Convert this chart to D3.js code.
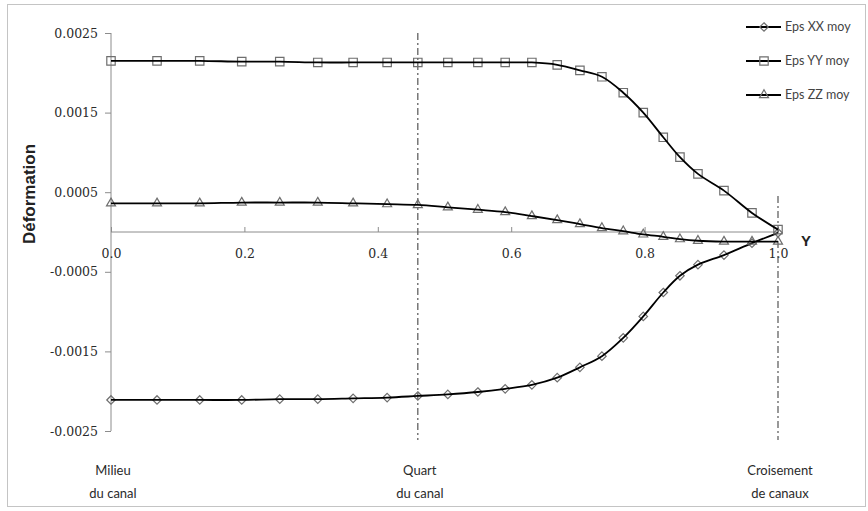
<!DOCTYPE html>
<html>
<head>
<meta charset="utf-8">
<script src="https://cdn.jsdelivr.net/npm/d3@7"></script>
<style>
  body { margin: 0; background: #fff; }
</style>
</head>
<body>
<div id="chart"></div>
<script>
// Y positions along the channel (normalised), one per computed point
const yPos = [0.000, 0.069, 0.133, 0.196, 0.253, 0.310, 0.363, 0.414, 0.460, 0.505, 0.550, 0.591,
              0.631, 0.669, 0.703, 0.736, 0.768, 0.798, 0.828, 0.853, 0.880, 0.919, 0.961, 1.000];

const epsXX = [-0.00211, -0.00211, -0.00211, -0.00211, -0.00210, -0.00210, -0.00209, -0.00208,
               -0.00206, -0.00204, -0.00201, -0.00197, -0.00192, -0.00183, -0.00170, -0.00156,
               -0.00133, -0.00106, -0.00076, -0.00055, -0.00041, -0.00029, -0.00014, -0.00001];

const epsYY = [0.00215, 0.00215, 0.00215, 0.00214, 0.00214, 0.00213, 0.00213, 0.00213,
               0.00213, 0.00213, 0.00213, 0.00213, 0.00213, 0.00210, 0.00203, 0.00195,
               0.00175, 0.00150, 0.00119, 0.00094, 0.00073, 0.00052, 0.00024, 0.00003];

const epsZZ = [0.00036, 0.00036, 0.00036, 0.00037, 0.00037, 0.00037, 0.00036, 0.00035,
               0.00034, 0.00031, 0.00028, 0.00025, 0.00020, 0.00015, 0.00010, 0.00005,
               0.00001, -0.00003, -0.00006, -0.00009, -0.00011, -0.00012, -0.00012, -0.00012];

const seriesNames = ["Eps XX moy", "Eps YY moy", "Eps ZZ moy"];
const seriesMarkers = ["diamond", "square", "triangle"];

const yTicks = [0.0025, 0.0015, 0.0005, -0.0005, -0.0015, -0.0025];
const xTicks = [0.0, 0.2, 0.4, 0.6, 0.8, 1.0];

// reference positions marked with dash-dot lines + captions
const refLines = [0.46, 1.0];
const refCaptions = [["Milieu", "du canal"], ["Quart", "du canal"], ["Croisement", "de canaux"]];
const refCaptionPos = [0.0, 0.46, 1.0];

const W = 868, H = 511;
const colors = {
    line: "#000",
    marker: "#6e6e6e",
    axis: "#8c8c8c",
    text: "#2a2a2a",
    ref: "#555",
    border: "#c4c4c4"
};

const svg = d3.select("#chart")
    .append("svg")
    .attr("viewBox", [0, 0, W, H])
    .attr("width", W)
    .attr("height", H);

svg.append("rect")
    .attr("x", 7.5).attr("y", 4.5)
    .attr("width", 858).attr("height", 502)
    .attr("fill", "#fff")
    .attr("stroke", colors.border);

const x = d3.scaleLinear().domain([0, 1]).range([111, 778]);
const y = d3.scaleLinear().domain([-0.0025, 0.0025]).range([431, 33]);

// plain hyphen for negatives, like the original spreadsheet
const fmtY = d => d3.format(".4f")(d).replace("\u2212", "-");

// y axis
const yAxis = svg.append("g")
    .attr("transform", `translate(${x(0)},0)`)
    .call(d3.axisLeft(y).tickValues(yTicks).tickFormat(fmtY).tickSize(6).tickPadding(7));
yAxis.select(".domain").attr("stroke", colors.axis).attr("d", `M0,${y(0.0025)}V${y(-0.0025)}`);
yAxis.selectAll(".tick line").attr("stroke", colors.axis);
yAxis.selectAll(".tick text")
    .attr("fill", colors.text)
    .style("font-family", "DejaVu Serif")
    .style("font-size", "12.5px");

// x axis, crossing at zero
const xAxis = svg.append("g")
    .attr("transform", `translate(0,${y(0)})`)
    .call(d3.axisBottom(x).tickValues(xTicks).tickFormat(d3.format(".1f")).tickSize(0).tickPadding(17));
xAxis.select(".domain").attr("stroke", colors.axis).attr("d", `M${x(0)},0H${x(1)}`);
xAxis.selectAll(".tick line").attr("stroke", colors.axis).attr("y1", -5).attr("y2", 0);
xAxis.selectAll(".tick text")
    .attr("fill", colors.text)
    .style("font-family", "DejaVu Serif")
    .style("font-size", "12.5px");

// reference dash-dot lines
svg.selectAll(".ref")
    .data(refLines)
    .join("line")
    .attr("class", "ref")
    .attr("x1", d => x(d)).attr("x2", d => x(d))
    .attr("y1", d => d < 1 ? y(0.0025) : 196)
    .attr("y2", 440)
    .attr("stroke", colors.ref)
    .attr("stroke-width", 1.2)
    .attr("stroke-dasharray", "7,3,2,3");

// captions under the chart
refCaptions.forEach((lines, i) => {
    const t = svg.append("text")
        .attr("y", 475)
        .attr("text-anchor", "middle")
        .attr("fill", colors.text)
        .style("font-family", "Lato")
        .style("font-size", "13px");
    lines.forEach((s, k) => t.append("tspan")
        .attr("x", x(refCaptionPos[i]) + 2)
        .attr("dy", k === 0 ? 0 : 23)
        .text(s));
});

// axis titles
svg.append("text")
    .attr("transform", "translate(35,194) rotate(-90)")
    .attr("text-anchor", "middle")
    .attr("fill", "#222")
    .style("font-family", "Liberation Sans")
    .style("font-weight", "bold")
    .style("font-size", "17px")
    .text("Déformation");

svg.append("text")
    .attr("x", 806).attr("y", 246)
    .attr("text-anchor", "middle")
    .attr("fill", "#222")
    .style("font-family", "Liberation Sans")
    .style("font-weight", "bold")
    .style("font-size", "15px")
    .text("Y");

// markers
const markerPath = {
    diamond: d3.symbol(d3.symbolDiamond2, 46)(),
    square: d3.symbol(d3.symbolSquare2, 90)(),
    triangle: d3.symbol(d3.symbolTriangle2, 58)()
};

function renderSeries(values, marker) {
    const pts = yPos.map((p, i) => [p, values[i]]);
    const line = d3.line()
        .x(d => x(d[0]))
        .y(d => y(d[1]))
        .curve(d3.curveCatmullRom.alpha(0.5));

    svg.append("g")
        .selectAll("path")
        .data(pts)
        .join("path")
        .attr("transform", d => `translate(${x(d[0])},${y(d[1])})`)
        .attr("d", markerPath[marker])
        .attr("fill", "none")
        .attr("stroke", colors.marker)
        .attr("stroke-width", 1.2);

    svg.append("path")
        .datum(pts)
        .attr("d", line)
        .attr("fill", "none")
        .attr("stroke", colors.line)
        .attr("stroke-width", 1.8);
}

renderSeries(epsXX, seriesMarkers[0]);
renderSeries(epsYY, seriesMarkers[1]);
renderSeries(epsZZ, seriesMarkers[2]);

// legend
const legendY = [27, 61, 95];
seriesNames.forEach((name, i) => {
    const g = svg.append("g").attr("transform", `translate(0,${legendY[i]})`);
    g.append("line")
        .attr("x1", 746).attr("x2", 781)
        .attr("stroke", colors.line).attr("stroke-width", 1.8);
    g.append("path")
        .attr("transform", "translate(764,0)")
        .attr("d", markerPath[seriesMarkers[i]])
        .attr("fill", "none")
        .attr("stroke", colors.marker)
        .attr("stroke-width", 1.2);
    g.append("text")
        .attr("x", 785).attr("dy", "0.35em")
        .attr("fill", "#444")
        .style("font-family", "Lato")
        .style("font-size", "12.5px")
        .text(name);
});
</script>
</body>
</html>
